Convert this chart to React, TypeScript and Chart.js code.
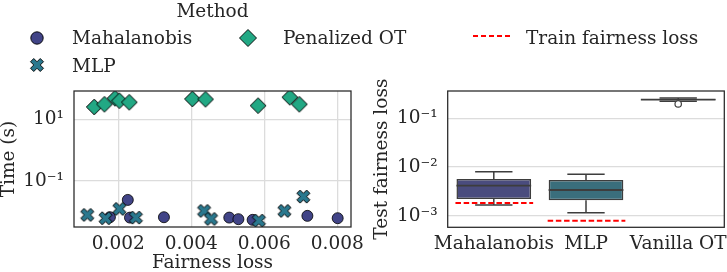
import React, { useEffect, useRef } from "react";
import { Chart, registerables } from "chart.js";

Chart.register(...registerables);

const FONT_FAMILY = "'DejaVu Serif', 'Liberation Serif', serif";
const FONT_SIZE = 18.5;
const TEXT_COLOR = "#262626";
const GRID_COLOR = "#dcdcdc";
const FRAME_COLOR = "#262626";
const BOX_LINE = "#3d3d3d";

const COLOR_MAHA = "#414487";
const COLOR_MLP = "#2a788e";
const COLOR_PEN = "#22a884";

// ---------- Left panel: fairness loss vs time ----------
const fairnessTicks = [0.002, 0.004, 0.006, 0.008];
const timeTicks = [0.1, 10];
const timeTickLabels = ["10⁻¹", "10¹"];

const mahalanobisFairness = [0.00177, 0.00226, 0.00232, 0.00325, 0.00504, 0.00529, 0.00568, 0.00718, 0.00801];
const mahalanobisTime = [0.00665, 0.0242, 0.00646, 0.00665, 0.00646, 0.00574, 0.00545, 0.00735, 0.00618];

const mlpFairness = [0.00115, 0.00165, 0.00203, 0.00248, 0.00435, 0.00454, 0.00585, 0.00655, 0.00707];
const mlpTime = [0.0079, 0.00618, 0.01236, 0.00646, 0.01067, 0.00586, 0.00516, 0.01067, 0.031];

const penalizedFairness = [0.00134, 0.00162, 0.00191, 0.00203, 0.0023, 0.00403, 0.00439, 0.00583, 0.0067, 0.00696];
const penalizedTime = [25.1, 30.6, 48, 40, 35.5, 45.5, 44.5, 27.6, 51.6, 30.6];

// ---------- Right panel: test fairness loss ----------
const methods = ["Mahalanobis", "MLP", "Vanilla OT"];
const boxQ1 = [0.0022, 0.00207, 0.236];
const boxQ3 = [0.00567, 0.0054, 0.248];
const boxMedian = [0.00413, 0.00337, 0.242];
const whiskerLow = [0.00166, 0.00115, 0.224];
const whiskerHigh = [0.008, 0.00708, 0.261];
const outliers: number[][] = [[], [], [0.197]];
const trainLoss: (number | null)[] = [0.00182, 0.00079, null];
const boxColors = ["#4a4c7e", "#3a6e7c", "#33977c"];
const lossTicks = [0.001, 0.01, 0.1];
const lossTickLabels = ["10⁻³", "10⁻²", "10⁻¹"];

const tickFont = { family: FONT_FAMILY, size: FONT_SIZE };
const titleFont = { family: FONT_FAMILY, size: FONT_SIZE, lineHeight: 1 };

function makeMarker(kind: "x" | "diamond", size: number, fill: string): HTMLCanvasElement {
  const c = document.createElement("canvas");
  const dim = Math.ceil(size + 4);
  c.width = dim;
  c.height = dim;
  const ctx = c.getContext("2d")!;
  ctx.translate(dim / 2, dim / 2);
  ctx.beginPath();
  if (kind === "x") {
    const pts = [[-1, -2], [0, -1], [1, -2], [2, -1], [1, 0], [2, 1], [1, 2], [0, 1], [-1, 2], [-2, 1], [-1, 0], [-2, -1]];
    const s = size / 4;
    pts.forEach(([x, y], i) => (i ? ctx.lineTo(x * s, y * s) : ctx.moveTo(x * s, y * s)));
  } else {
    const h = size / 2;
    ctx.moveTo(0, -h);
    ctx.lineTo(h, 0);
    ctx.lineTo(0, h);
    ctx.lineTo(-h, 0);
  }
  ctx.closePath();
  ctx.fillStyle = fill;
  ctx.fill();
  ctx.lineWidth = 1;
  ctx.strokeStyle = "#000";
  ctx.stroke();
  return c;
}

const framePlugin = {
  id: "frame",
  afterDatasetsDraw(chart: any) {
    const { ctx, chartArea: a } = chart;
    ctx.save();
    ctx.strokeStyle = FRAME_COLOR;
    ctx.lineWidth = 1.25;
    ctx.strokeRect(a.left, a.top, a.right - a.left, a.bottom - a.top);
    ctx.restore();
  },
};

const boxPlugin = {
  id: "boxExtras",
  afterDatasetsDraw(chart: any) {
    const { ctx } = chart;
    const yS = chart.scales.y;
    const meta = chart.getDatasetMeta(0);
    ctx.save();
    methods.forEach((_, i) => {
      const el = meta.data[i];
      const cx = el.x;
      const w = el.width;
      const yq1 = yS.getPixelForValue(boxQ1[i]);
      const yq3 = yS.getPixelForValue(boxQ3[i]);
      const ylo = yS.getPixelForValue(whiskerLow[i]);
      const yhi = yS.getPixelForValue(whiskerHigh[i]);
      const ymed = yS.getPixelForValue(boxMedian[i]);
      ctx.strokeStyle = BOX_LINE;
      ctx.lineWidth = 1.5;
      ctx.beginPath();
      ctx.moveTo(cx, yq3);
      ctx.lineTo(cx, yhi);
      ctx.moveTo(cx, yq1);
      ctx.lineTo(cx, ylo);
      ctx.moveTo(cx - w / 4, yhi);
      ctx.lineTo(cx + w / 4, yhi);
      ctx.moveTo(cx - w / 4, ylo);
      ctx.lineTo(cx + w / 4, ylo);
      ctx.stroke();
      ctx.lineWidth = 1.8;
      ctx.beginPath();
      ctx.moveTo(cx - w / 2, ymed);
      ctx.lineTo(cx + w / 2, ymed);
      ctx.stroke();
      outliers[i].forEach((v) => {
        const yo = yS.getPixelForValue(v);
        ctx.beginPath();
        ctx.arc(cx, yo, 3.2, 0, Math.PI * 2);
        ctx.fillStyle = "#ffffff";
        ctx.fill();
        ctx.lineWidth = 1.2;
        ctx.strokeStyle = BOX_LINE;
        ctx.stroke();
      });
      const t = trainLoss[i];
      if (t !== null) {
        const yt = yS.getPixelForValue(t);
        ctx.save();
        ctx.strokeStyle = "#ff0000";
        ctx.lineWidth = 2;
        ctx.setLineDash([5.5, 2.7]);
        ctx.beginPath();
        ctx.moveTo(cx - w / 2 - 1, yt);
        ctx.lineTo(cx + w / 2 + 2, yt);
        ctx.stroke();
        ctx.restore();
      }
    });
    ctx.restore();
  },
};

export default function App() {
  const leftRef = useRef<HTMLCanvasElement>(null);
  const rightRef = useRef<HTMLCanvasElement>(null);

  useEffect(() => {
    const xMarker = makeMarker("x", 13, COLOR_MLP);
    const dMarker = makeMarker("diamond", 15.6, COLOR_PEN);

    const left = new Chart(leftRef.current!, {
      type: "scatter",
      data: {
        datasets: [
          {
            label: "Mahalanobis",
            data: mahalanobisFairness.map((x, i) => ({ x, y: mahalanobisTime[i] })),
            pointStyle: "circle",
            pointRadius: 5.5,
            backgroundColor: COLOR_MAHA,
            borderColor: "#000",
            borderWidth: 0.8,
            order: 3,
          },
          {
            label: "MLP",
            data: mlpFairness.map((x, i) => ({ x, y: mlpTime[i] })),
            pointStyle: xMarker as any,
            pointRadius: 6.5,
            order: 2,
          },
          {
            label: "Penalized OT",
            data: penalizedFairness.map((x, i) => ({ x, y: penalizedTime[i] })),
            pointStyle: dMarker as any,
            pointRadius: 8,
            order: 1,
          },
        ],
      },
      options: {
        animation: false,
        responsive: false,
        devicePixelRatio: 1,
        layout: { padding: { top: 91, right: 17, left: 0, bottom: 0 } },
        plugins: { legend: { display: false }, tooltip: { enabled: false } },
        scales: {
          x: {
            type: "linear",
            min: 0.000786,
            max: 0.008375,
            bounds: "data",
            afterBuildTicks: (s: any) => {
              s.ticks = fairnessTicks.map((v) => ({ value: v }));
            },
            afterFit: (s: any) => {
              s.height = 45;
              s.paddingLeft = 0;
              s.paddingRight = 0;
            },
            ticks: {
              callback: (_v: any, i: number) => fairnessTicks[i].toFixed(3),
              font: tickFont,
              color: TEXT_COLOR,
              padding: 6,
              maxRotation: 0,
              autoSkip: false,
            },
            grid: { color: GRID_COLOR, lineWidth: 1.3, drawTicks: false },
            border: { display: false },
            title: { display: true, text: "Fairness loss", font: titleFont, color: TEXT_COLOR, padding: 0 },
          },
          y: {
            type: "logarithmic",
            min: 0.0032,
            max: 82.6,
            bounds: "data",
            afterBuildTicks: (s: any) => {
              s.ticks = timeTicks.map((v) => ({ value: v }));
            },
            afterFit: (s: any) => {
              s.width = 74;
              s.paddingTop = 0;
              s.paddingBottom = 0;
            },
            ticks: {
              callback: (_v: any, i: number) => timeTickLabels[i],
              font: tickFont,
              color: TEXT_COLOR,
              padding: 10,
              autoSkip: false,
            },
            grid: { color: GRID_COLOR, lineWidth: 1.3, drawTicks: false },
            border: { display: false },
            title: { display: true, text: "Time (s)", font: titleFont, color: TEXT_COLOR, padding: 0 },
          },
        },
      },
      plugins: [framePlugin],
    } as any);

    const right = new Chart(rightRef.current!, {
      type: "bar",
      data: {
        labels: methods,
        datasets: [
          {
            label: "Test fairness loss",
            data: methods.map((_, i) => [boxQ1[i], boxQ3[i]]),
            backgroundColor: boxColors,
            borderColor: BOX_LINE,
            borderWidth: 1.5,
            borderSkipped: false,
            barPercentage: 0.81,
            categoryPercentage: 1,
          },
        ],
      },
      options: {
        animation: false,
        responsive: false,
        devicePixelRatio: 1,
        layout: { padding: { top: 91, right: 2.7, left: 0, bottom: 0 } },
        plugins: { legend: { display: false }, tooltip: { enabled: false } },
        scales: {
          x: {
            type: "category",
            afterFit: (s: any) => {
              s.height = 44.7;
              s.paddingLeft = 0;
              s.paddingRight = 0;
            },
            ticks: { font: tickFont, color: TEXT_COLOR, padding: 6, maxRotation: 0, autoSkip: false },
            grid: { display: false, drawTicks: false },
            border: { display: false },
          },
          y: {
            type: "logarithmic",
            min: 0.000578,
            max: 0.363,
            bounds: "data",
            afterBuildTicks: (s: any) => {
              s.ticks = lossTicks.map((v) => ({ value: v }));
            },
            afterFit: (s: any) => {
              s.width = 79.7;
              s.paddingTop = 0;
              s.paddingBottom = 0;
            },
            ticks: {
              callback: (_v: any, i: number) => lossTickLabels[i],
              font: tickFont,
              color: TEXT_COLOR,
              padding: 10,
              autoSkip: false,
            },
            grid: { color: GRID_COLOR, lineWidth: 1.3, drawTicks: false },
            border: { display: false },
            title: {
              display: true,
              text: "Test fairness loss",
              font: titleFont,
              color: TEXT_COLOR,
              padding: { top: 4.5, bottom: 0 },
            },
          },
        },
      },
      plugins: [boxPlugin, framePlugin],
    } as any);

    return () => {
      left.destroy();
      right.destroy();
    };
  }, []);

  const textStyle: React.CSSProperties = {
    fontFamily: FONT_FAMILY,
    fontSize: FONT_SIZE,
    fill: TEXT_COLOR,
  } as any;

  const xPts = [[-1, -2], [0, -1], [1, -2], [2, -1], [1, 0], [2, 1], [1, 2], [0, 1], [-1, 2], [-2, 1], [-1, 0], [-2, -1]]
    .map(([x, y]) => `${37 + x * 3.25},${65 + y * 3.25}`)
    .join(" ");

  return (
    <div style={{ position: "absolute", left: 0, top: 0, width: 727, height: 272, background: "#fff", overflow: "hidden" }}>
      <canvas ref={leftRef} width={368} height={272} style={{ position: "absolute", left: 0, top: 0, width: 368, height: 272 }} />
      <canvas ref={rightRef} width={359} height={272} style={{ position: "absolute", left: 368, top: 0, width: 359, height: 272 }} />
      <svg width={727} height={80} style={{ position: "absolute", left: 0, top: 0, pointerEvents: "none" }}>
        <text x={212.5} y={16.7} textAnchor="middle" style={textStyle}>Method</text>
        <circle cx={37} cy={38} r={6.2} fill={COLOR_MAHA} stroke="#000" strokeWidth={0.9} />
        <text x={72} y={44} style={textStyle}>Mahalanobis</text>
        <polygon points={xPts} fill={COLOR_MLP} stroke="#000" strokeWidth={0.9} />
        <text x={72} y={71.7} style={textStyle}>MLP</text>
        <polygon points="248,29.5 256.5,38 248,46.5 239.5,38" fill={COLOR_PEN} stroke="#000" strokeWidth={0.9} />
        <text x={283} y={44} style={textStyle}>Penalized OT</text>
        <line x1={473} y1={36} x2={510} y2={36} stroke="#ff0000" strokeWidth={2} strokeDasharray="5 3" />
        <text x={526} y={44} style={textStyle}>Train fairness loss</text>
      </svg>
    </div>
  );
}
